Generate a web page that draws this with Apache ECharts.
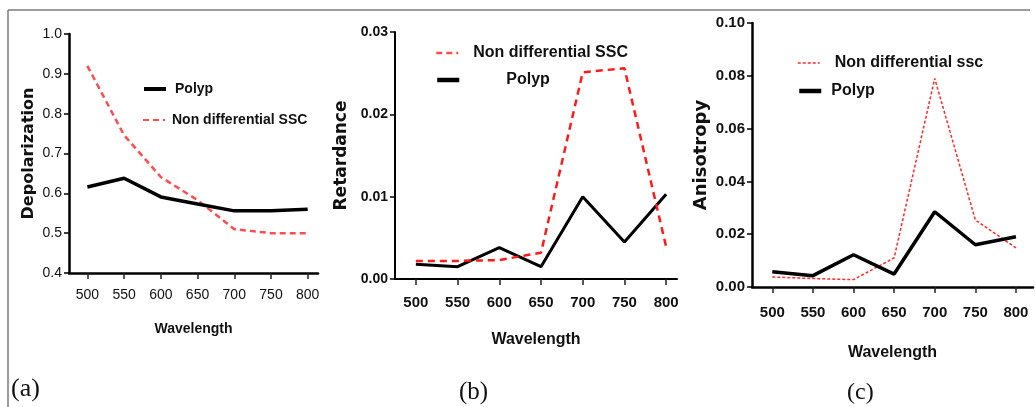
<!DOCTYPE html>
<html>
<head>
<meta charset="utf-8">
<script src="https://cdn.jsdelivr.net/npm/echarts@6/dist/echarts.min.js"></script>
<style>
    html, body {margin: 0; padding: 0; background: #fff;}
    #main {width: 1035px; height: 407px;}
</style>
</head>
<body>
<div id="main"></div>
<script>
    // wavelength (nm)
    var wavelengths = [500, 550, 600, 650, 700, 750, 800];

    // (a) depolarization
    var depolPolyp = [0.616, 0.638, 0.591, 0.573, 0.556, 0.556, 0.560];
    var depolSSC = [0.92, 0.746, 0.641, 0.583, 0.510, 0.500, 0.500];

    // (b) retardance
    var retardPolyp = [0.0018, 0.0015, 0.0038, 0.0015, 0.0100, 0.0045, 0.0103];
    var retardSSC = [0.0022, 0.0022, 0.0023, 0.0032, 0.0251, 0.0256, 0.0039];

    // (c) anisotropy
    var anisoPolyp = [0.0058, 0.0043, 0.0122, 0.0049, 0.0285, 0.0160, 0.0190];
    var anisoSSC = [0.0038, 0.0032, 0.0028, 0.0110, 0.0790, 0.0254, 0.0148];

    var sans = "'Liberation Sans', Arial, sans-serif";
    var wide = "'DejaVu Sans', sans-serif";

    function pairs(vals) {
        return wavelengths.map(function (w, i) {
            return [w, vals[i]];
        });
    }

    function xAxisFor(idx, max, o) {
        return {
            type: 'value',
            gridIndex: idx,
            min: 475,
            max: max,
            name: 'Wavelength',
            nameLocation: 'middle',
            nameGap: o.nameGap,
            nameTextStyle: {fontFamily: sans, fontWeight: 'bold', fontSize: o.nameSize, color: '#111'},
            axisLine: {lineStyle: {color: '#000', width: o.lineW}},
            axisTick: {show: true, customValues: wavelengths, length: 6, lineStyle: {color: '#222', width: 1.5}},
            axisLabel: {
                customValues: wavelengths,
                margin: o.margin,
                fontFamily: sans,
                fontWeight: o.bold ? 'bold' : 'normal',
                fontSize: o.labelSize,
                color: '#111'
            },
            splitLine: {show: false}
        };
    }

    function yAxisFor(idx, name, min, max, interval, digits, o) {
        return {
            type: 'value',
            gridIndex: idx,
            min: min,
            max: max,
            interval: interval,
            name: name,
            nameLocation: 'middle',
            nameRotate: 90,
            nameGap: o.nameGap,
            nameTextStyle: {fontFamily: wide, fontWeight: 'bold', fontSize: o.nameSize, color: '#111'},
            axisLine: {show: true, lineStyle: {color: '#000', width: o.lineW}},
            axisTick: {show: true, length: 5, lineStyle: {color: '#000', width: 1.5}},
            axisLabel: {
                margin: 7,
                fontFamily: sans,
                fontWeight: o.bold ? 'bold' : 'normal',
                fontSize: o.labelSize,
                color: '#111',
                formatter: function (v) {
                    return v.toFixed(digits);
                }
            },
            splitLine: {show: false}
        };
    }

    function lineSeries(name, idx, vals, color, width, dash) {
        return {
            name: name,
            type: 'line',
            xAxisIndex: idx,
            yAxisIndex: idx,
            data: pairs(vals),
            symbol: 'none',
            smooth: false,
            lineStyle: {color: color, width: width, type: dash},
            itemStyle: {color: color}
        };
    }

    function oneLegend(name, left, top, size, padLeft, lineW) {
        return {
            data: [name],
            left: left,
            top: top,
            padding: 0,
            itemWidth: 22,
            itemHeight: 14,
            selectedMode: false,
            itemStyle: {opacity: 0},
            lineStyle: {width: lineW},
            textStyle: {
                fontFamily: sans,
                fontWeight: 'bold',
                fontSize: size,
                color: '#111',
                padding: [0, 0, 0, padLeft]
            }
        };
    }

    var chart = echarts.init(document.getElementById('main'), null, {renderer: 'canvas'});

    var option = {
        backgroundColor: '#fff',
        animation: false,
        grid: [
            {left: 69, top: 34, width: 249, height: 239},
            {left: 395, top: 32, width: 282, height: 247},
            {left: 752, top: 23, width: 281, height: 264}
        ],
        xAxis: [
            xAxisFor(0, 814, {nameGap: 49, nameSize: 14, lineW: 2.5, margin: 15, labelSize: 14, bold: false}),
            xAxisFor(1, 813, {nameGap: 53, nameSize: 16, lineW: 2, margin: 16, labelSize: 15, bold: true}),
            xAxisFor(2, 821, {nameGap: 58, nameSize: 16, lineW: 2.5, margin: 18, labelSize: 15, bold: true})
        ],
        yAxis: [
            yAxisFor(0, 'Depolarization', 0.4, 1.0, 0.1, 1, {nameGap: 32, nameSize: 16, lineW: 2.5, labelSize: 14, bold: false}),
            yAxisFor(1, 'Retardance', 0, 0.03, 0.01, 2, {nameGap: 45, nameSize: 17, lineW: 2, labelSize: 14, bold: true}),
            yAxisFor(2, 'Anisotropy', 0, 0.1, 0.02, 2, {nameGap: 42, nameSize: 18, lineW: 2.5, labelSize: 15, bold: true})
        ],
        legend: [
            oneLegend('Polyp', 142, 82, 14, 4, 4),
            oneLegend('Non differential SSC', 142, 113, 14, 2, 2),
            oneLegend('Non differential SSC', 435, 45, 16, 10, 2.5),
            oneLegend('Polyp ', 435, 72, 16, 42, 4.5),
            oneLegend('Non differential ssc', 797, 55, 16, 10, 1.5),
            oneLegend('Polyp  ', 797, 83, 16, 5, 4.5)
        ],
        series: [
            lineSeries('Non differential SSC', 0, depolSSC, '#ff4d4d', 2.5, [6, 4]),
            lineSeries('Polyp', 0, depolPolyp, '#000', 3.5, 'solid'),
            lineSeries('Polyp ', 1, retardPolyp, '#000', 3, 'solid'),
            lineSeries('Non differential SSC', 1, retardSSC, '#ff1a1a', 2.5, [7, 5]),
            lineSeries('Non differential ssc', 2, anisoSSC, '#ff2a2a', 1.5, [3, 2]),
            lineSeries('Polyp  ', 2, anisoPolyp, '#000', 3.5, 'solid')
        ],
        graphic: [
            {type: 'line', shape: {x1: 8, y1: 10, x2: 1030, y2: 10}, style: {stroke: '#7a7a7a', lineWidth: 1.5}},
            {type: 'line', shape: {x1: 8, y1: 10, x2: 8, y2: 407}, style: {stroke: '#7a7a7a', lineWidth: 1.5}},
            {type: 'text', left: 11, top: 376, style: {text: '(a)', font: '26px "Liberation Serif", serif', fill: '#111'}},
            {type: 'text', left: 459, top: 380, style: {text: '(b)', font: '25px "Liberation Serif", serif', fill: '#111'}},
            {type: 'text', left: 847, top: 381, style: {text: '(c)', font: '24px "Liberation Serif", serif', fill: '#111'}}
        ]
    };

    chart.setOption(option);
</script>
</body>
</html>
